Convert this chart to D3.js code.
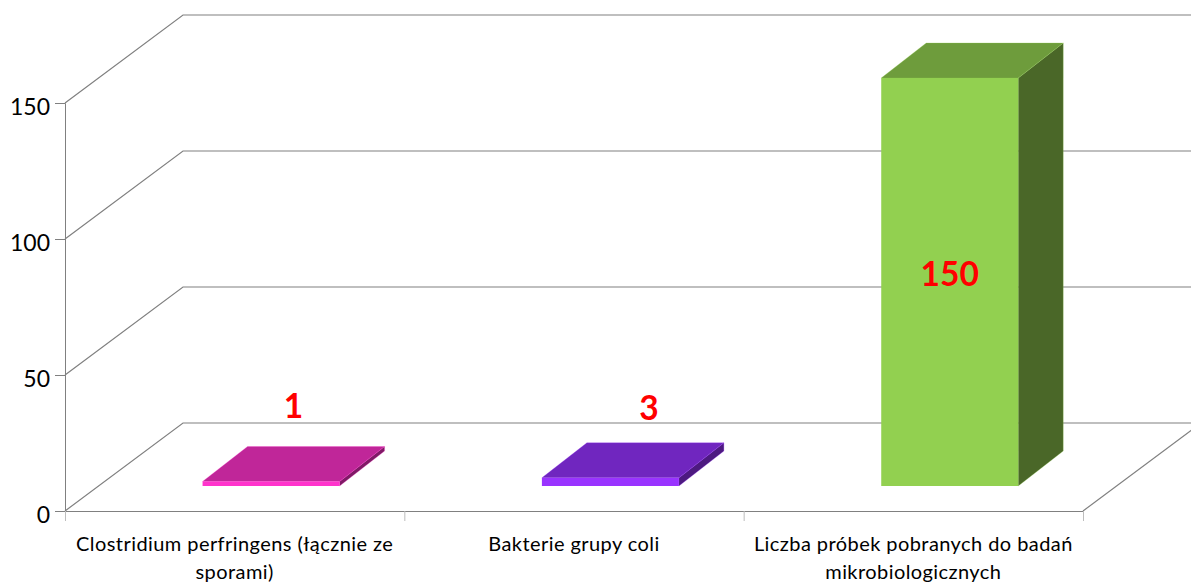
<!DOCTYPE html>
<html>
<head>
<meta charset="utf-8">
<script src="https://cdn.jsdelivr.net/npm/d3@7"></script>
<style>
    html, body { margin: 0; padding: 0; background: #fff; overflow: hidden; }
    text { font-family: Lato, "Open Sans", sans-serif; }
</style>
</head>
<body>
<svg id="chart" width="1191" height="582"></svg>
<script>
const categories = ['Clostridium perfringens (łącznie ze sporami)', 'Bakterie grupy coli', 'Liczba próbek pobranych do badań mikrobiologicznych'];
const categoryLines = [['Clostridium perfringens (łącznie ze', 'sporami)'], ['Bakterie grupy coli'], ['Liczba próbek pobranych do badań', 'mikrobiologicznych']];
const values = [1, 3, 150];
const yTicks = [0, 50, 100, 150];

const frontColors = ['#ff33cc', '#9933ff', '#92d050'];
const topColors = ['#c02699', '#7026bf', '#6e9c3c'];
const sideColors = ['#7f1a66', '#4d1a80', '#4a6728'];

function drawChart() {
    let svg = d3.select('#chart');

    let left = 65, right = 1083, base = 511, top = 103;
    let wallDepth = {'x': 118, 'y': -88};
    let barDepth = {'x': 45, 'y': -35};
    let barShift = {'x': 36.4, 'y': -25};
    let barWidth = 137;
    let minBarHeight = 4.5;

    let xScale = d3.scaleBand().domain(categories).range([left, right]);
    let xTickScale = d3.scaleLinear().domain([0, categories.length]).range([left, right]);
    let yScale = d3.scaleLinear().domain([0, 150]).range([base, top]);

    // walls and floor ------------------------------------------------------------
    let grid = svg.append('g').attr('stroke', '#808080').attr('stroke-width', 1.2).attr('fill', 'none');
    yTicks.forEach((t) => {
        grid.append('path')
            .attr('d', d3.line()([[left, yScale(t)], [left + wallDepth.x, yScale(t) + wallDepth.y], [1191, yScale(t) + wallDepth.y]]));
    });
    grid.append('path')
        .attr('d', d3.line()([[right, base], [right + wallDepth.x, base + wallDepth.y]]));

    // axes -----------------------------------------------------------------------
    let yAxis = d3.axisLeft(yScale).tickValues(yTicks).tickSize(10).tickPadding(5);
    let yG = svg.append('g').attr('transform', 'translate(' + left + ', 0)').call(yAxis);
    yG.select('.domain').attr('stroke', '#808080');
    yG.selectAll('.tick line').attr('stroke', '#808080');
    yG.selectAll('.tick text')
        .attr('fill', '#000')
        .attr('dy', '0.5em')
        .style('font-size', '23px');

    let xAxis = d3.axisBottom(xTickScale).tickValues(d3.range(categories.length + 1)).tickSize(10).tickFormat('');
    let xG = svg.append('g').attr('transform', 'translate(0, ' + base + ')').call(xAxis);
    xG.select('.domain').attr('stroke', '#808080');
    xG.selectAll('.tick line').attr('stroke', '#bdbdbd');

    categories.forEach((c, i) => {
        let label = svg.append('text')
            .attr('text-anchor', 'middle')
            .attr('fill', '#000')
            .style('font-size', '20px')
            .style('letter-spacing', '0.43px');
        categoryLines[i].forEach((l, j) => {
            label.append('tspan')
                .attr('x', xScale(c) + xScale.bandwidth() / 2)
                .attr('y', 551 + j * 28)
                .text(l);
        });
    });

    // bars -----------------------------------------------------------------------
    let polygon = d3.line();
    values.forEach((v, i) => {
        let c = categories[i];
        let x0 = xScale(c) + xScale.bandwidth() / 2 - barWidth / 2 + barShift.x;
        let x1 = x0 + barWidth;
        let y0 = base + barShift.y;
        let y1 = Math.min(yScale(v) + barShift.y, y0 - minBarHeight);
        let g = svg.append('g');

        g.append('path')
            .attr('d', polygon([[x1, y0], [x1 + barDepth.x, y0 + barDepth.y], [x1 + barDepth.x, y1 + barDepth.y], [x1, y1]]) + 'Z')
            .attr('fill', sideColors[i])
            .attr('stroke', frontColors[i]).attr('stroke-opacity', 0.45).attr('stroke-width', 0.6);
        g.append('path')
            .attr('d', polygon([[x0, y1], [x1, y1], [x1 + barDepth.x, y1 + barDepth.y], [x0 + barDepth.x, y1 + barDepth.y]]) + 'Z')
            .attr('fill', topColors[i])
            .attr('stroke', frontColors[i]).attr('stroke-opacity', 0.45).attr('stroke-width', 0.6);
        g.append('rect')
            .attr('x', x0).attr('y', y1)
            .attr('width', barWidth).attr('height', y0 - y1)
            .attr('fill', frontColors[i]);
    });

    // value labels, placed by hand in the original -------------------------------
    let labelNudge = [[22.5, -64], [38.5, -58], [0, 208]];
    values.forEach((v, i) => {
        let c = categories[i];
        let cx = xScale(c) + xScale.bandwidth() / 2 + barShift.x;
        let yTop = Math.min(yScale(v) + barShift.y, base + barShift.y - minBarHeight);
        svg.append('text')
            .attr('x', cx + labelNudge[i][0])
            .attr('y', yTop + labelNudge[i][1])
            .attr('text-anchor', 'middle')
            .attr('fill', '#ff0000')
            .style('font-size', '33.5px')
            .style('font-weight', 700)
            .text(v);
    });
}

drawChart();
</script>
</body>
</html>
